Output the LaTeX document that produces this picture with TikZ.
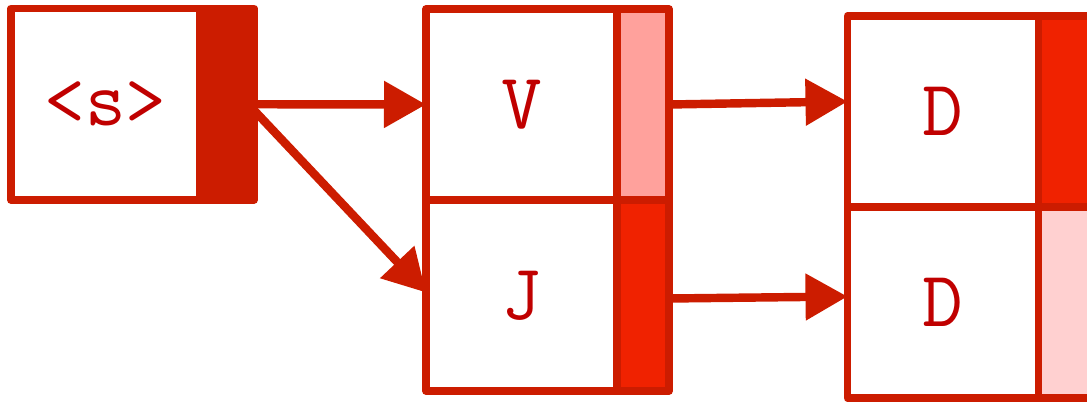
\documentclass[tikz,border=0pt]{standalone}
\usepackage{fontspec}
\usepackage{xcolor}
\usetikzlibrary{arrows.meta,positioning}
\definecolor{lineRed}{RGB}{204,28,0}
\definecolor{textRed}{RGB}{192,0,0}
\definecolor{hotRed}{RGB}{240,34,0}
\definecolor{softPink}{RGB}{255,161,156}
\definecolor{palePink}{RGB}{255,208,208}

\begin{document}
\begin{tikzpicture}[>=Latex,node distance=0cm,
  cell/.style={draw=lineRed,fill=white,line width=4.3pt,line join=round,inner sep=0pt,outer sep=0pt,
    minimum width=3.82cm,minimum height=3.82cm,text=textRed,font=\fontsize{45}{50}\selectfont\ttfamily},
  bar/.style={draw=lineRed,line width=4.3pt,line join=round,inner sep=0pt,outer sep=0pt,
    minimum width=1.04cm,minimum height=3.82cm},
  link/.style={draw=lineRed,line width=4.8pt,-{Triangle[length=0.84cm,width=0.9cm]}}]
\clip (0,0) rectangle (21.74,-8.06);
% start token
\node[cell,minimum width=3.78cm,minimum height=3.83cm] (bos) at (2.11,-2.085) {<s>};
\node[bar,fill=lineRed,minimum width=1.08cm,minimum height=3.83cm,right=of bos] (bosbar) {};
% first step
\node[cell] (v) at (10.43,-2.09) {V};
\node[bar,fill=softPink,right=of v] (vbar) {};
\node[cell,below=of v] (j) {J};
\node[bar,fill=hotRed,right=of j] (jbar) {};
% second step
\node[cell] (d1) at (18.86,-2.23) {D};
\node[bar,fill=hotRed,right=of d1] (d1bar) {};
\node[cell,below=of d1] (d2) {D};
\node[bar,fill=palePink,right=of d2] (d2bar) {};
% links
\draw[link] (bosbar.east) -- (v.west);
\draw[link] ([yshift=-0.12cm]bosbar.east) -- ([yshift=0.06cm]j.west);
\draw[link] (vbar.east) -- ([yshift=0.2cm]d1.west);
\draw[link] ([yshift=-0.06cm]jbar.east) -- ([yshift=0.12cm]d2.west);
\end{tikzpicture}
\end{document}
